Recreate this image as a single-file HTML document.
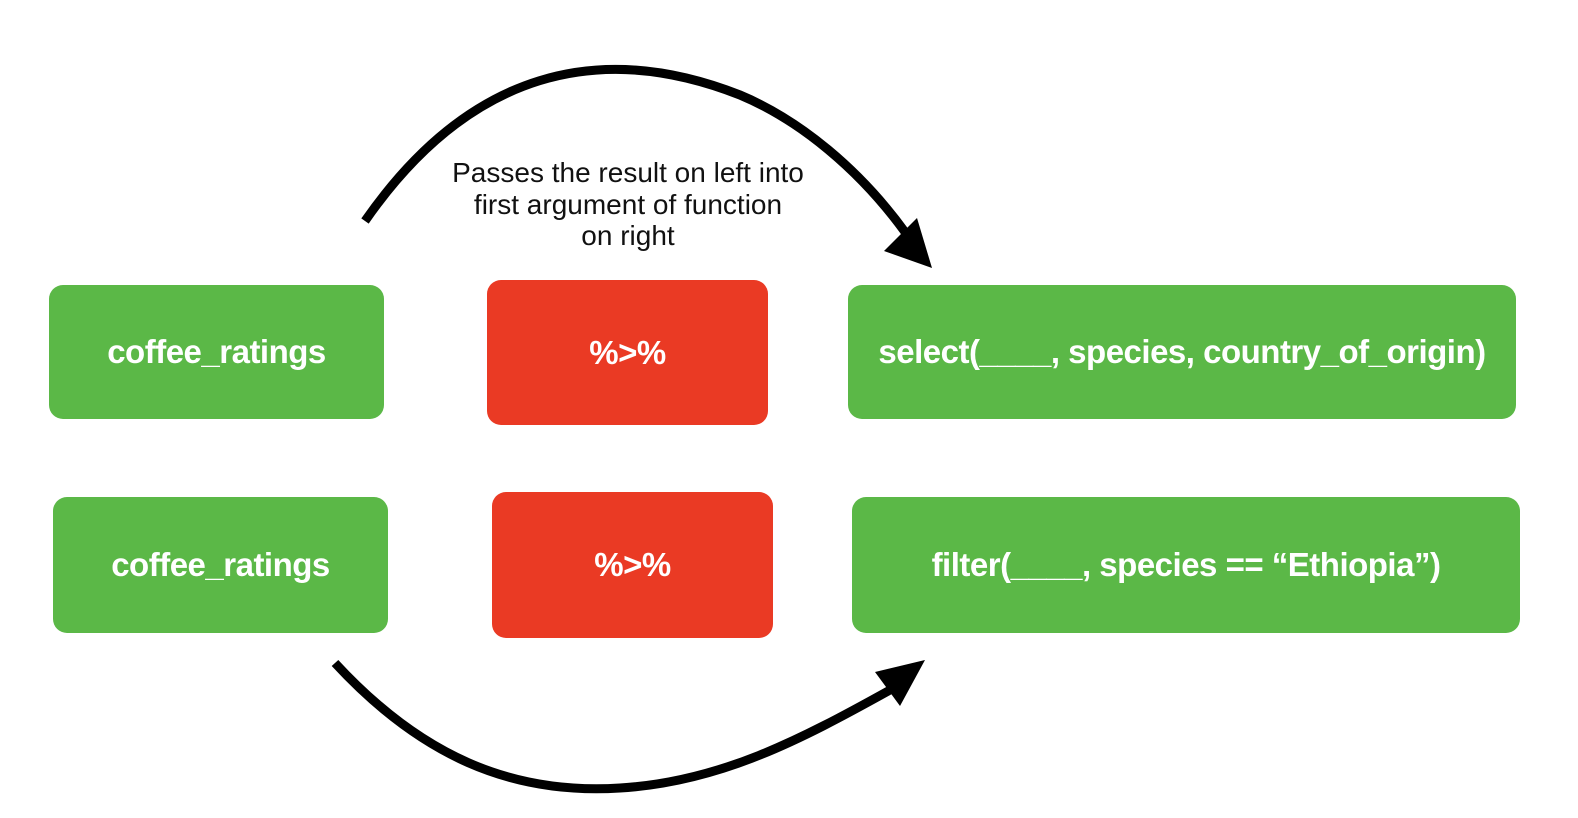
<!DOCTYPE html>
<html><head><meta charset="utf-8"><style>
body{margin:0;width:1578px;height:818px;background:#fff;position:relative;overflow:hidden;font-family:"Liberation Sans",sans-serif}
.b{position:absolute;border-radius:14px;color:#fff;font-weight:bold;font-size:33px;display:flex;align-items:center;justify-content:center;letter-spacing:-0.5px}
.g{background:#5bb847}.r{background:#ea3a24}
.t{position:absolute;left:378px;width:500px;text-align:center;font-size:28px;line-height:31.5px;top:157px;color:#111}
</style></head><body>
<svg width="1578" height="818" style="position:absolute;left:0;top:0">
<path d="M365,221 C470,70 600,40 740,95 C800,120 860,170 905,232" fill="none" stroke="#000" stroke-width="9"/>
<polygon points="884,251 917,218 932,268" fill="#000"/>
<path d="M335,663 C420,755 510,795 620,788 C720,782 800,740 890,690" fill="none" stroke="#000" stroke-width="9"/>
<polygon points="875,672 900,706 925,660" fill="#000"/>
</svg>
<div class="t">Passes the result on left into<br>first argument of function<br>on right</div>
<div class="b g" style="left:49px;top:285px;width:335px;height:134px">coffee_ratings</div>
<div class="b r" style="left:487px;top:280px;width:281px;height:145px">%&gt;%</div>
<div class="b g" style="left:848px;top:285px;width:668px;height:134px">select(____, species, country_of_origin)</div>
<div class="b g" style="left:53px;top:497px;width:335px;height:136px">coffee_ratings</div>
<div class="b r" style="left:492px;top:492px;width:281px;height:146px">%&gt;%</div>
<div class="b g" style="left:852px;top:497px;width:668px;height:136px">filter(____, species == “Ethiopia”)</div>
</body></html>
